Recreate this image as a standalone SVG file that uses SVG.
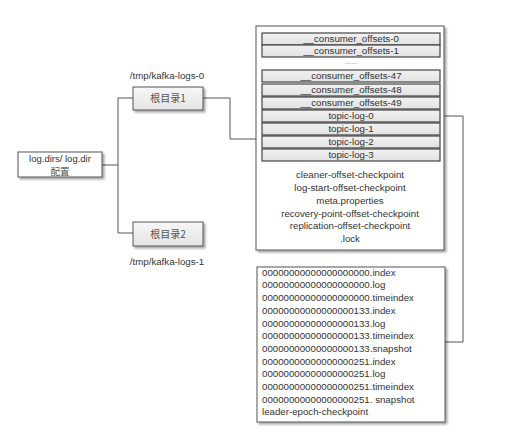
<svg xmlns="http://www.w3.org/2000/svg" width="512" height="440" viewBox="0 0 512 440">
<defs>
<filter id="sh" x="-10%" y="-10%" width="130%" height="140%">
<feDropShadow dx="2" dy="2" stdDeviation="1" flood-color="#000" flood-opacity="0.35"/>
</filter>
<linearGradient id="gb" x1="0" y1="0" x2="0" y2="1">
<stop offset="0" stop-color="#f7f7f7"/>
<stop offset="1" stop-color="#e4e4e4"/>
</linearGradient>
<linearGradient id="gr" x1="0" y1="0" x2="0" y2="1">
<stop offset="0" stop-color="#f2f2f2"/>
<stop offset="1" stop-color="#e2e2e2"/>
</linearGradient>
</defs>
<style>
text{font-family:"Liberation Sans","Noto Sans CJK SC",sans-serif;font-size:9.7px;fill:#333;text-anchor:middle}
.cn{font-family:"Noto Sans CJK SC",sans-serif;fill:#555;font-size:10px}
.l{text-anchor:start}
.box{fill:url(#gb);stroke:#555;stroke-width:1;filter:url(#sh)}
.wbox{fill:#fff;stroke:#555;stroke-width:1;filter:url(#sh)}
.row{fill:url(#gr);stroke:#444;stroke-width:1.2}
.c{fill:none;stroke:#555;stroke-width:1}
</style>
<rect width="512" height="440" fill="#fff"/>
<g id="connectors">
<polyline class="c" points="102,165 118,165"/>
<polyline class="c" points="133,98 118,98 118,233 133,233"/>
<polyline class="c" points="203,98 230,98 230,139 256,139"/>
<polyline class="c" points="440,116 463,116 463,342 445,342"/>
</g>
<g id="logdirs">
<rect class="wbox" x="18" y="152" width="84" height="25"/>
<text x="60" y="162" style="font-size:9.5px">log.dirs/ log.dir</text>
<text class="cn" x="60" y="175" style="font-size:9.5px">配置</text>
</g>
<g id="root1">
<rect class="box" x="133" y="87" width="70" height="23"/>
<text class="cn" x="168" y="102">根目录1</text>
<text x="167" y="79">/tmp/kafka-logs-0</text>
</g>
<g id="root2">
<rect class="box" x="133" y="222" width="70" height="24"/>
<text class="cn" x="168" y="238">根目录2</text>
<text x="167" y="265">/tmp/kafka-logs-1</text>
</g>
<g id="rootdir-contents">
<rect class="wbox" x="256" y="26" width="188" height="224"/>
<rect class="row" x="262" y="33" width="178" height="12"/>
<text x="351" y="42">__consumer_offsets-0</text>
<rect class="row" x="262" y="45" width="178" height="12"/>
<text x="351" y="54">__consumer_offsets-1</text>
<text x="351" y="64" style="font-size:7px;fill:#777">......</text>
<rect class="row" x="262" y="70" width="178" height="12"/>
<text x="351" y="79">__consumer_offsets-47</text>
<rect class="row" x="262" y="84" width="178" height="12"/>
<text x="351" y="93">__consumer_offsets-48</text>
<rect class="row" x="262" y="97" width="178" height="12"/>
<text x="351" y="106">__consumer_offsets-49</text>
<rect class="row" x="262" y="110" width="178" height="12"/>
<text x="351" y="119">topic-log-0</text>
<rect class="row" x="262" y="123" width="178" height="12"/>
<text x="351" y="132">topic-log-1</text>
<rect class="row" x="262" y="136" width="178" height="12"/>
<text x="351" y="145">topic-log-2</text>
<rect class="row" x="262" y="149" width="178" height="12"/>
<text x="351" y="158">topic-log-3</text>
<text x="350" y="178">cleaner-offset-checkpoint</text>
<text x="350" y="191">log-start-offset-checkpoint</text>
<text x="350" y="204">meta.properties</text>
<text x="350" y="217">recovery-point-offset-checkpoint</text>
<text x="350" y="229">replication-offset-checkpoint</text>
<text x="350" y="242">.lock</text>
</g>
<g id="topic-log-0-contents">
<rect class="wbox" x="257" y="267" width="188" height="155"/>
<g style="font-size:10.2px">
<text class="l" x="262" y="276">00000000000000000000.index</text>
<text class="l" x="262" y="288">00000000000000000000.log</text>
<text class="l" x="262" y="301">00000000000000000000.timeindex</text>
<text class="l" x="262" y="314">00000000000000000133.index</text>
<text class="l" x="262" y="327">00000000000000000133.log</text>
<text class="l" x="262" y="339">00000000000000000133.timeindex</text>
<text class="l" x="262" y="352">00000000000000000133.snapshot</text>
<text class="l" x="262" y="365">00000000000000000251.index</text>
<text class="l" x="262" y="377">00000000000000000251.log</text>
<text class="l" x="262" y="390">00000000000000000251.timeindex</text>
<text class="l" x="262" y="403">00000000000000000251. snapshot</text>
<text class="l" x="262" y="415">leader-epoch-checkpoint</text>
</g>
</g>
</svg>
